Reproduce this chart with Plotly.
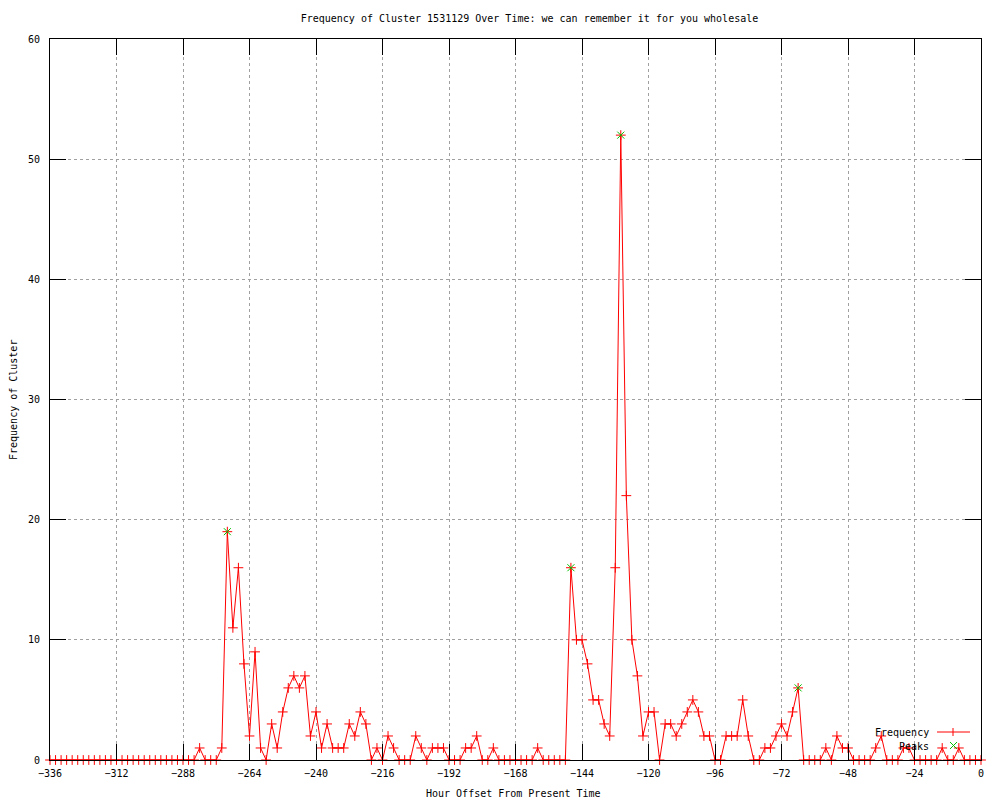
import plotly.graph_objects as go

# Hours (every 2 hours from -336 to 0)
hours = list(range(-336, 1, 2))

# Frequency values, one per 2-hour slot, -336 .. 0
frequency = [
    0, 0, 0, 0, 0, 0, 0, 0, 0, 0,   # -336 .. -318
    0, 0, 0, 0, 0, 0, 0, 0, 0, 0,   # -316 .. -298
    0, 0, 0, 0, 0, 0, 0,            # -296 .. -284
    1, 0, 0, 0, 1,                  # -282 .. -274
    19, 11, 16, 8, 2, 9, 1, 0,      # -272 .. -258
    3, 1, 4, 6, 7, 6, 7, 2,         # -256 .. -242
    4, 1, 3, 1, 1, 1, 3, 2,         # -240 .. -226
    4, 3, 0, 1, 0, 2, 1, 0,         # -224 .. -210
    0, 0, 2, 1, 0, 1, 1, 1,         # -208 .. -194
    0, 0, 0, 1, 1, 2, 0, 0,         # -192 .. -178
    1, 0, 0, 0, 0, 0, 0, 0,         # -176 .. -162
    1, 0, 0, 0, 0, 0,               # -160 .. -150
    16, 10, 10, 8, 5, 5, 3, 2,      # -148 .. -134
    16, 52, 22, 10, 7, 2,           # -132 .. -122
    4, 4, 0, 3, 3, 2, 3, 4,         # -120 .. -106
    5, 4, 2, 2, 0, 0, 2, 2,         # -104 .. -90
    2, 5, 2, 0, 0, 1, 1, 2,         # -88 .. -74
    3, 2, 4, 6, 0, 0, 0, 0,         # -72 .. -58
    1, 0, 2, 1, 1, 0, 0, 0,         # -56 .. -42
    0, 1, 2, 0, 0, 0, 1, 1,         # -40 .. -26
    0, 0, 0, 0, 0, 1, 0, 0,         # -24 .. -10
    1, 0, 0, 0, 0,                  # -8 .. 0
]

# Detected peaks
peak_hours = [-272, -148, -130, -66]
peak_values = [19, 16, 52, 6]

x_ticks = list(range(-336, 1, 24))
y_ticks = [0, 10, 20, 30, 40, 50, 60]

title_text = "Frequency of Cluster 1531129 Over Time: we can remember it for you wholesale"
x_title = "Hour Offset From Present Time"
y_title = "Frequency of Cluster"
legend_labels = ["Frequency", "Peaks"]

FONT = "DejaVu Sans Mono"
RED = "#ff0000"
GREEN = "#00c000"

fig = go.Figure()
fig.add_trace(go.Scatter(
    x=hours, y=frequency, mode="lines+markers", name=legend_labels[0],
    line=dict(color=RED, width=1),
    marker=dict(symbol="cross-thin-open", size=7, line=dict(color=RED, width=1), color=RED),
    cliponaxis=False, showlegend=False,
))
fig.add_trace(go.Scatter(
    x=peak_hours, y=peak_values, mode="markers", name=legend_labels[1],
    marker=dict(symbol="x-thin-open", size=7, line=dict(color=GREEN, width=1), color=GREEN),
    cliponaxis=False, showlegend=False,
))

# plot area geometry in pixels
L, R, T, B = 50, 981, 39, 760
W, H = 1000, 800
PW, PH = R - L, B - T


def px(xp):
    return (xp - L) / PW


def py(yp):
    return (B - yp) / PH


axis_common = dict(
    showline=True, linecolor="black", linewidth=1, mirror="ticks",
    ticks="inside", ticklen=16, tickcolor="black", tickwidth=1,
    showgrid=True, gridcolor="#a0a0a0", griddash="dot", gridwidth=1,
    zeroline=False, tickfont=dict(family=FONT, size=10, color="black"),
)

fig.update_xaxes(range=[-336, 0], tickvals=x_ticks, ticklabelstandoff=4, **axis_common)
fig.update_yaxes(range=[0, 60], tickvals=y_ticks, ticklabelstandoff=7, **axis_common)

annotations = [
    dict(text=x_title, xref="paper", yref="paper", x=px(513), y=py(793),
         showarrow=False, xanchor="center", yanchor="middle",
         font=dict(family=FONT, size=10, color="black")),
    dict(text=y_title, xref="paper", yref="paper", x=px(13), y=py(400),
         showarrow=False, xanchor="center", yanchor="middle", textangle=-90,
         font=dict(family=FONT, size=10, color="black")),
    dict(text=legend_labels[0], xref="paper", yref="paper", x=px(931), y=py(732),
         showarrow=False, xanchor="right", yanchor="middle",
         font=dict(family=FONT, size=10, color="black")),
    dict(text=legend_labels[1], xref="paper", yref="paper", x=px(931), y=py(746),
         showarrow=False, xanchor="right", yanchor="middle",
         font=dict(family=FONT, size=10, color="black")),
]

shapes = [
    # Frequency legend sample: line with a plus
    dict(type="line", xref="paper", yref="paper", x0=px(937), x1=px(970), y0=py(732), y1=py(732),
         line=dict(color=RED, width=1)),
    dict(type="line", xref="paper", yref="paper", x0=px(953), x1=px(953), y0=py(728), y1=py(736),
         line=dict(color=RED, width=1)),
    # Peaks legend sample: an x
    dict(type="line", xref="paper", yref="paper", x0=px(950), x1=px(957), y0=py(742), y1=py(749),
         line=dict(color=GREEN, width=1)),
    dict(type="line", xref="paper", yref="paper", x0=px(950), x1=px(957), y0=py(749), y1=py(742),
         line=dict(color=GREEN, width=1)),
]

fig.update_layout(
    width=W, height=H,
    margin=dict(l=L, r=W - R, t=T, b=H - B, pad=0),
    paper_bgcolor="white", plot_bgcolor="white",
    title=dict(text=title_text, x=515 / W, xanchor="center", xref="paper",
               y=1 - 18 / H, yref="container", yanchor="middle",
               font=dict(family=FONT, size=10, color="black")),
    annotations=annotations, shapes=shapes,
    showlegend=False,
)

fig.write_html(
    "out.html",
    config={"displayModeBar": False},
    post_script="document.body.style.margin='0';document.body.style.overflow='hidden';",
)
